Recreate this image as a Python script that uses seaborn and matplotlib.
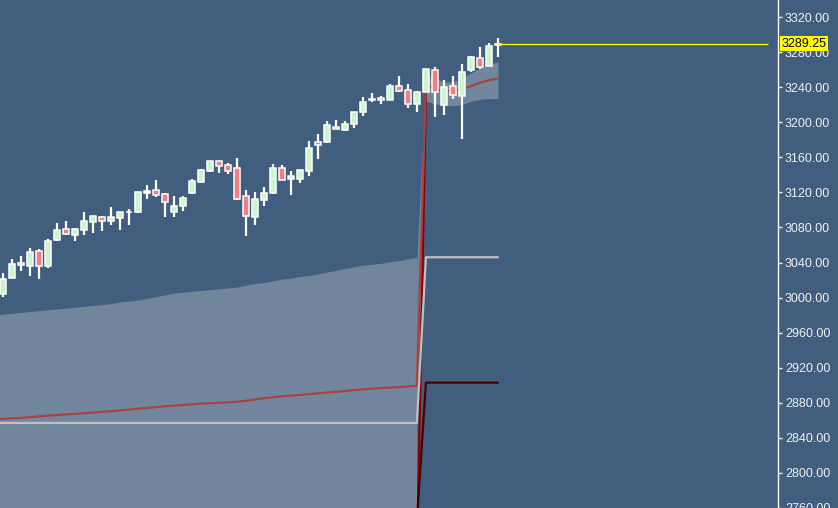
import numpy as np
import pandas as pd
import matplotlib
matplotlib.use('Agg')
import matplotlib.pyplot as plt
import seaborn as sns
from matplotlib.ticker import FormatStrFormatter

# свечи (индекс бара 0..55)
opens = [3003.7, 3022.6, 3039.0, 3036.3, 3053.1, 3036.3, 3065.3, 3078.2, 3071.7, 3077.4,
         3086.5, 3091.5, 3087.6, 3091.0, 3097.5, 3097.2, 3119.5, 3122.3, 3118.4, 3097.6,
         3104.7, 3118.9, 3131.8, 3144.3, 3155.4, 3151.2, 3147.4, 3115.5, 3092.2, 3111.2,
         3118.9, 3147.4, 3134.9, 3135.5, 3144.7, 3177.1, 3177.7, 3194.9, 3190.8, 3197.6,
         3211.6, 3225.0, 3227.6, 3225.7, 3240.9, 3236.4, 3221.1, 3234.1, 3259.2, 3219.3,
         3241.6, 3230.2, 3259.9, 3273.6, 3264.1, 3288.5]
highs = [3027.6, 3043.9, 3047.4, 3056.8, 3055.3, 3066.4, 3085.0, 3087.3, 3079.6, 3097.9,
         3093.0, 3093.3, 3103.6, 3098.0, 3100.6, 3120.3, 3128.4, 3134.1, 3119.2, 3115.8,
         3115.8, 3135.5, 3147.0, 3155.7, 3156.1, 3153.4, 3159.2, 3122.7, 3120.7, 3126.1,
         3152.3, 3151.2, 3144.0, 3145.1, 3178.5, 3186.2, 3201.4, 3202.5, 3201.4, 3211.6,
         3228.7, 3233.3, 3229.9, 3243.2, 3252.7, 3243.6, 3235.6, 3260.7, 3262.6, 3247.8,
         3253.0, 3266.0, 3275.9, 3285.4, 3290.0, 3296.4]
lows = [3000.9, 3022.3, 3030.6, 3024.9, 3021.1, 3034.0, 3064.5, 3071.3, 3064.5, 3071.3,
        3073.6, 3075.9, 3082.7, 3077.0, 3082.7, 3096.8, 3112.4, 3114.3, 3092.2, 3092.2,
        3099.0, 3118.1, 3130.3, 3143.2, 3142.0, 3140.9, 3111.2, 3070.2, 3082.7, 3104.7,
        3118.7, 3133.7, 3117.0, 3131.0, 3139.0, 3158.4, 3176.6, 3191.7, 3190.5, 3193.7,
        3207.4, 3223.4, 3221.1, 3225.3, 3235.0, 3216.5, 3212.0, 3233.9, 3205.9, 3207.9,
        3226.1, 3180.5, 3256.9, 3260.3, 3263.8, 3274.7]
closes = [3021.1, 3037.9, 3036.7, 3051.6, 3035.6, 3064.5, 3077.0, 3072.1, 3078.2, 3087.3,
          3092.6, 3087.6, 3091.9, 3097.9, 3098.0, 3120.0, 3121.0, 3117.3, 3109.3, 3104.4,
          3113.5, 3133.3, 3145.5, 3155.7, 3150.4, 3144.7, 3112.4, 3092.6, 3112.7, 3118.9,
          3147.4, 3133.7, 3138.3, 3145.1, 3170.9, 3173.6, 3196.8, 3191.9, 3197.6, 3211.6,
          3223.0, 3226.0, 3225.0, 3241.3, 3235.2, 3221.1, 3234.4, 3260.3, 3234.1, 3240.5,
          3231.0, 3257.6, 3274.0, 3262.6, 3287.3, 3289.25]
last_price = 3289.25

# заливка: до бара 46 (от низа), потом полоса 46..55
area_x = [-1] + list(range(0, 47))
area_top = [2980, 2981, 2982, 2983, 2984, 2985, 2986, 2987, 2988, 2989, 2990,
            2991, 2992, 2993, 2995, 2996, 2997, 2999, 3001, 3003, 3005,
            3006, 3007, 3008, 3009, 3010, 3011, 3012, 3014, 3016, 3017,
            3019, 3021, 3022, 3024, 3025, 3027, 3029, 3031, 3033, 3035,
            3037, 3038, 3039, 3041, 3042, 3044, 3046]
band_x = list(range(46, 56))
band_top = [3046, 3255, 3250, 3246, 3246, 3250, 3256, 3262, 3266, 3269]
band_low = [2860, 3224, 3221, 3219, 3219, 3220, 3224, 3226, 3227, 3227]

# линии
red_x = [-1] + list(range(0, 56))
red_vals = [2861.0, 2861.6, 2862.2, 2862.8, 2863.6, 2864.5, 2865.3, 2866.0, 2866.7, 2867.4, 2868.1,
            2868.8, 2869.6, 2870.4, 2871.3, 2872.2, 2873.2, 2874.1, 2875.0, 2876.0, 2876.8,
            2877.5, 2878.2, 2879.0, 2879.5, 2880.0, 2880.5, 2881.2, 2882.3, 2883.7, 2885.2,
            2886.4, 2887.3, 2888.1, 2888.8, 2889.8, 2890.8, 2891.7, 2892.5, 2893.5, 2894.5,
            2895.3, 2896.1, 2896.7, 2897.3, 2897.9, 2898.6, 2899.3,
            3244.0, 3238.0, 3235.5, 3236.0, 3238.0, 3241.0, 3245.0, 3248.0, 3250.0]
grey_x = [-1, 46, 47, 55]
grey_vals = [2857, 2857, 3046, 3046]
dark_x = [46, 47, 55]
dark_vals = [2745, 2903, 2903]
darkred_x = [46, 47]
darkred_vals = [2700, 3233]

yticks = list(range(2760, 3321, 40))

bg = '#425e7e'
sns.set_style('dark', rc={'axes.facecolor': bg, 'figure.facecolor': bg})
plt.rcParams['font.family'] = ['Liberation Sans', 'DejaVu Sans']

fig = plt.figure(figsize=(8.38, 5.08), dpi=100)
ax = fig.add_axes([0, 0, 778 / 838, 1])

ax.fill_between(area_x, 2600, area_top, color='#72879e', linewidth=0, zorder=1)
ax.fill_between(band_x, band_low, band_top, color='#72879e', linewidth=0, zorder=1)

sns.lineplot(x=darkred_x, y=darkred_vals, ax=ax, color='#8b0000', linewidth=1.6, zorder=2)
sns.lineplot(x=red_x, y=red_vals, ax=ax, color='#a84242', linewidth=1.6, zorder=2.1)
sns.lineplot(x=grey_x, y=grey_vals, ax=ax, color='#c0c0c0', linewidth=1.6, zorder=2.2)
sns.lineplot(x=dark_x, y=dark_vals, ax=ax, color='#4a0000', linewidth=1.6, zorder=2.3)

df = pd.DataFrame({'o': opens, 'h': highs, 'l': lows, 'c': closes})
df['x'] = np.arange(len(df))
df['up'] = df['c'] >= df['o']
ax.vlines(df['x'], df['l'], df['h'], color='white', linewidth=1.6, zorder=3)
body = (df['c'] - df['o']).abs().clip(lower=0.6)
ax.bar(df['x'], body, bottom=df[['o', 'c']].min(axis=1), width=0.64,
       color=np.where(df['up'], '#ccf5cc', '#f08080'), edgecolor='white',
       linewidth=1.1, zorder=4)

ax.hlines(last_price, len(df) - 1, 85, color='#ffff00', linewidth=0.9, zorder=5)

ax.set_xlim(-0.3, 86.1)
ax.set_ylim(2760, 3339.4)
ax.set_xticks([])
ax.yaxis.tick_right()
ax.set_yticks(yticks)
ax.yaxis.set_major_formatter(FormatStrFormatter('%.2f'))
ax.tick_params(axis='y', colors='#f0f0f0', length=3, width=1, pad=2, labelsize=9)
for s in ['top', 'left', 'bottom']:
    ax.spines[s].set_visible(False)
ax.spines['right'].set_color('white')
ax.spines['right'].set_linewidth(1)
ax.grid(False)
ax.set_xlabel('')
ax.set_ylabel('')

ax.text(1.004, last_price, f'{last_price:.2f}', transform=ax.get_yaxis_transform(),
        ha='left', va='center', fontsize=9, color='black', zorder=10, clip_on=False,
        bbox=dict(boxstyle='square,pad=0.12', fc='#ffff00', ec='none'))

fig.savefig('out.png', dpi=100, facecolor=bg)
